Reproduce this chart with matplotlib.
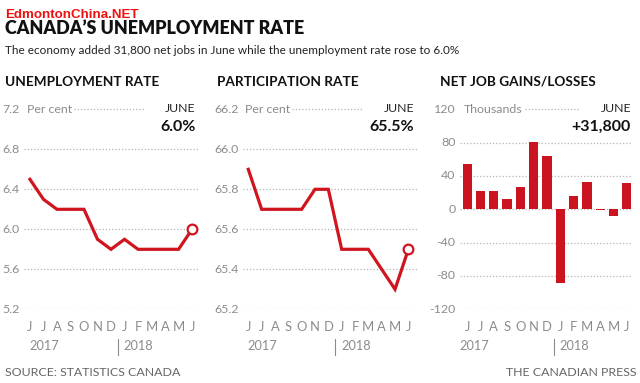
import matplotlib
matplotlib.use('Agg')
import matplotlib.pyplot as plt
from matplotlib.transforms import blended_transform_factory

plt.rcParams['font.family'] = ['Lato', 'DejaVu Sans']

# --- data ---
months = ['J', 'J', 'A', 'S', 'O', 'N', 'D', 'J', 'F', 'M', 'A', 'M', 'J']
unemployment = [6.5, 6.3, 6.2, 6.2, 6.2, 5.9, 5.8, 5.9, 5.8, 5.8, 5.8, 5.8, 6.0]
participation = [65.9, 65.7, 65.7, 65.7, 65.7, 65.8, 65.8, 65.5, 65.5, 65.5, 65.4, 65.3, 65.5]
net_jobs = [54.5, 22.5, 22.0, 12.0, 27.0, 81.0, 64.5, -88.0, 15.4, 32.3, -1.1, -7.5, 31.8]

u_ticks = [5.2, 5.6, 6.0, 6.4, 6.8, 7.2]
p_ticks = [65.2, 65.4, 65.6, 65.8, 66.0, 66.2]
j_ticks = [-120, -80, -40, 0, 40, 80, 120]

RED = '#d0151f'
GRAY = '#8c8c8c'
GRID = '#b5b5b5'

W, H = 640, 383
fig = plt.figure(figsize=(W / 100, H / 100), dpi=100)


def fx(px):
    return px / W


def fy(py):
    return 1 - py / H


def make_ax(left_px, right_px):
    ax = fig.add_axes([fx(left_px), fy(309.3), (right_px - left_px) / W, (309.3 - 109.3) / H])
    for s in ax.spines.values():
        s.set_visible(False)
    ax.set_xticks([])
    ax.set_yticks([])
    ax.patch.set_alpha(0)
    return ax


def dress(ax, ticks, fmt, unit, title, title_x, june_label, june_right, xlim, year_x, top_grid):
    ax.set_xlim(*xlim)
    ax.set_ylim(ticks[0], ticks[-1])
    tr_y = blended_transform_factory(ax.transAxes, ax.transData)
    # dotted gridlines; the top one is short and sits after the unit label
    for t in ticks[:-1]:
        ax.axhline(t, color=GRID, lw=0.9, ls=(0, (1, 1.6)), zorder=0)
    ax.plot(top_grid, [ticks[-1]] * 2, transform=tr_y,
            color=GRID, lw=0.9, ls=(0, (1, 1.6)), zorder=0, clip_on=False)
    for t in ticks:
        ax.text(-0.025, t, fmt(t), transform=tr_y, ha='right', va='center',
                fontsize=8.9, color=GRAY)
    ax.text(unit[0], ticks[-1], unit[1], transform=tr_y, ha='left', va='center',
            fontsize=8.9, color=GRAY)
    # month labels and years
    tr_x = blended_transform_factory(ax.transData, fig.transFigure)
    for i, m in enumerate(months):
        ax.text(i, fy(327), m, transform=tr_x, ha='center', va='center',
                fontsize=9.4, color=GRAY)
    ax.text(year_x[0], fy(346), '2017', transform=tr_x, ha='left', va='center',
            fontsize=9.2, color=GRAY)
    ax.plot([6.5, 6.5], [fy(339), fy(355)], transform=tr_x, color=GRAY, lw=0.8, clip_on=False)
    ax.text(year_x[1], fy(346), '2018', transform=tr_x, ha='left', va='center',
            fontsize=9.2, color=GRAY)
    # panel title and June callout
    fig.text(fx(title_x), fy(82), title, ha='left', va='center', fontsize=9.8,
             fontweight='bold', color='#111111')
    fig.text(fx(june_right), fy(109), 'JUNE', ha='right', va='center', fontsize=8.9,
             color='#222222')
    fig.text(fx(june_right), fy(127), june_label, ha='right', va='center', fontsize=11.5,
             fontweight='bold', color='#111111')


x = list(range(len(months)))

# --- unemployment rate ---
ax1 = make_ax(24, 198)
dress(ax1, u_ticks, lambda t: f'{t:.1f}', (0.02, 'Per cent'), 'UNEMPLOYMENT RATE', 5,
      '6.0%', 195.5, (-0.44, 12.44), (-0.05, 6.9), [0.29, 0.69])
ax1.plot(x, unemployment, color=RED, lw=2.3, solid_joinstyle='miter', zorder=3)
ax1.plot(x[-1], unemployment[-1], 'o', ms=7, mfc='white', mec=RED, mew=1.6, zorder=4)

# --- participation rate ---
ax2 = make_ax(243.3, 416.7)
dress(ax2, p_ticks, lambda t: f'{t:.1f}', (0.01, 'Per cent'), 'PARTICIPATION RATE', 217,
      '65.5%', 414, (-0.375, 12.625), (-0.1, 6.95), [0.28, 0.69])
ax2.plot(x, participation, color=RED, lw=2.3, solid_joinstyle='miter', zorder=3)
ax2.plot(x[-1], participation[-1], 'o', ms=7, mfc='white', mec=RED, mew=1.6, zorder=4)

# --- net job gains / losses ---
ax3 = make_ax(460, 632)
dress(ax3, j_ticks, lambda t: f'{t:d}', (0.02, 'Thousands'), 'NET JOB GAINS/LOSSES', 440,
      '+31,800', 631, (-0.54, 12.39), (-0.6, 6.95), [0.38, 0.69])
ax3.bar(x, net_jobs, width=0.7, color='#cc1420', zorder=3)

# --- headline, source, credit ---
fig.text(fx(5), fy(28), 'CANADA\u2019S UNEMPLOYMENT RATE', ha='left', va='center',
         fontsize=12.9, fontweight='heavy', color='#111111')
fig.text(fx(5), fy(51), 'The economy added 31,800 net jobs in June while the unemployment rate rose to 6.0%',
         ha='left', va='center', fontsize=8.5, color='#222222')
fig.text(fx(5), fy(15), 'EdmontonChina.NET', ha='left', va='center', fontsize=9.6,
         fontweight='bold', color='#ee1111',
         family=['Liberation Sans Narrow', 'Liberation Sans', 'DejaVu Sans'])
fig.text(fx(5), fy(372), 'SOURCE: STATISTICS CANADA', ha='left', va='center',
         fontsize=8.9, color='#666666')
fig.text(fx(637), fy(372), 'THE CANADIAN PRESS', ha='right', va='center',
         fontsize=8.9, color='#666666')

fig.savefig('out.png', dpi=100)
